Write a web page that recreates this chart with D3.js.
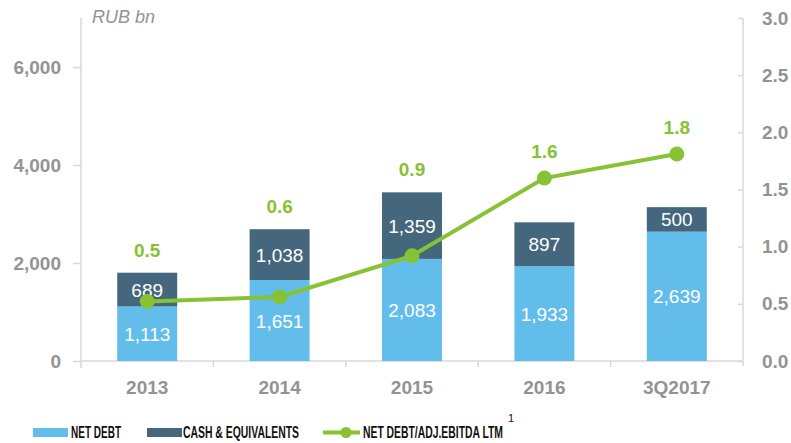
<!DOCTYPE html>
<html>
<head>
<meta charset="utf-8">
<script src="https://cdn.jsdelivr.net/npm/d3@7"></script>
<style>
  body { margin: 0; background: #fff; }
  svg { display: block; }
</style>
</head>
<body>
<svg id="chart" width="791" height="443"></svg>
<script>
// data
var categories = ["2013", "2014", "2015", "2016", "3Q2017"];
var netDebt = [1113, 1651, 2083, 1933, 2639];
var cash = [689, 1038, 1359, 897, 500];
var ratio = [0.52, 0.56, 0.92, 1.6, 1.81];
var ratioLabels = ["0.5", "0.6", "0.9", "1.6", "1.8"];
var leftTicks = [0, 2000, 4000, 6000];
var rightTicks = [0, 0.5, 1, 1.5, 2, 2.5, 3];

var lightBlue = "#63bdea", darkBlue = "#44677d", green = "#86c232", grey = "#939393", axisGrey = "#d9d9d9";

var svg = d3.select("#chart");
var plotLeft = 81, plotRight = 743, plotTop = 18, plotBottom = 361;

var x = d3.scaleBand().domain(categories).range([plotLeft, plotRight]).paddingInner(0).paddingOuter(0);
var yL = d3.scaleLinear().domain([0, 7000]).range([plotBottom, plotTop]);
var yR = d3.scaleLinear().domain([0, 3]).range([plotBottom, plotTop]);
var barW = x.bandwidth() * 0.453;
var fmt = d3.format(",");

// axes
var gl = svg.append("g").attr("transform", "translate(" + plotLeft + ",0)")
  .call(d3.axisLeft(yL).tickValues(leftTicks).tickSize(8).tickPadding(12).tickFormat(fmt));
var gr = svg.append("g").attr("transform", "translate(" + plotRight + ",0)")
  .call(d3.axisLeft(yR).tickValues(rightTicks).tickSize(5).tickPadding(0).tickFormat(d3.format(".1f")));
gr.selectAll(".tick text").attr("text-anchor", "start").attr("x", 19);
var gb = svg.append("g").attr("transform", "translate(0," + plotBottom + ")")
  .call(d3.axisBottom(x).tickSize(0).tickPadding(20));

// band boundary ticks on the category axis
svg.selectAll(".btick").data(categories.slice(1)).enter().append("line")
  .attr("x1", function(d) { return x(d); }).attr("x2", function(d) { return x(d); })
  .attr("y1", plotBottom).attr("y2", plotBottom + 6)
  .attr("stroke", axisGrey).attr("stroke-width", 1.5);

[gl, gr, gb].forEach(function(g) {
  g.selectAll(".domain").attr("stroke", axisGrey).attr("stroke-width", 1.5);
  g.selectAll(".tick line").attr("stroke", axisGrey).attr("stroke-width", 1.5);
  g.selectAll(".tick text").attr("fill", grey).attr("font-family", "Liberation Sans, Arial, sans-serif")
    .attr("font-size", 19).attr("font-weight", "bold");
});
gl.select(".domain").attr("d", "M0," + plotTop + "V" + (plotBottom + 7));
gr.select(".domain").attr("d", "M0," + plotTop + "V" + (plotBottom + 5));
gb.select(".domain").attr("d", "M" + plotLeft + ",0H" + plotRight);

svg.append("text").attr("x", 92).attr("y", 23).text("RUB bn")
  .attr("fill", grey).attr("font-family", "Liberation Sans, Arial, sans-serif")
  .attr("font-size", 18).attr("font-style", "italic");

// stacked bars
var bars = svg.append("g");
categories.forEach(function(c, i) {
  var bx = x(c) + (x.bandwidth() - barW) / 2;
  var cx = x(c) + x.bandwidth() / 2;
  var nd = netDebt[i], cs = cash[i];
  bars.append("rect").attr("x", bx).attr("width", barW)
    .attr("y", yL(nd)).attr("height", yL(0) - yL(nd)).attr("fill", lightBlue);
  bars.append("rect").attr("x", bx).attr("width", barW)
    .attr("y", yL(nd + cs)).attr("height", yL(nd) - yL(nd + cs)).attr("fill", darkBlue);
  bars.append("text").attr("x", cx).attr("y", (yL(0) + yL(nd)) / 2 + 7)
    .attr("text-anchor", "middle").attr("fill", "#fff").attr("font-size", 19)
    .attr("font-family", "Liberation Sans, Arial, sans-serif").text(fmt(nd));
  bars.append("text").attr("x", cx).attr("y", (yL(nd) + yL(nd + cs)) / 2 + 7)
    .attr("text-anchor", "middle").attr("fill", "#fff").attr("font-size", 19)
    .attr("font-family", "Liberation Sans, Arial, sans-serif").text(fmt(cs));
});

// ratio line
var cxOf = function(i) { return x(categories[i]) + x.bandwidth() / 2; };
var line = d3.line().x(function(d, i) { return cxOf(i); }).y(function(d) { return yR(d); });
svg.append("path").datum(ratio).attr("d", line).attr("fill", "none")
  .attr("stroke", green).attr("stroke-width", 4);
svg.selectAll(".dot").data(ratio).enter().append("circle")
  .attr("cx", function(d, i) { return cxOf(i); }).attr("cy", function(d) { return yR(d); })
  .attr("r", 7.5).attr("fill", green);
svg.selectAll(".rlab").data(ratio).enter().append("text")
  .attr("x", function(d, i) { return cxOf(i); })
  .attr("y", function(d, i) {
    var topBar = yL(netDebt[i] + cash[i]);
    var py = yR(d);
    // label sits above the bar, or above the point when the point is higher
    return py < topBar ? py - 20 : topBar - 16;
  })
  .attr("text-anchor", "middle").attr("fill", green).attr("font-size", 19)
  .attr("font-weight", "bold").attr("font-family", "Liberation Sans, Arial, sans-serif")
  .text(function(d, i) { return ratioLabels[i]; });

// legend (condensed look via textLength)
var lg = svg.append("g").attr("font-family", "Liberation Sans, Arial, sans-serif")
  .attr("font-weight", "bold").attr("font-size", 17).attr("fill", "#111");
lg.append("rect").attr("x", 33).attr("y", 428).attr("width", 35).attr("height", 9).attr("fill", lightBlue);
lg.append("text").attr("x", 71).attr("y", 438).attr("textLength", 50).attr("lengthAdjust", "spacingAndGlyphs").text("NET DEBT");
lg.append("rect").attr("x", 147).attr("y", 428).attr("width", 35).attr("height", 9).attr("fill", darkBlue);
lg.append("text").attr("x", 183).attr("y", 438).attr("textLength", 116).attr("lengthAdjust", "spacingAndGlyphs").text("CASH & EQUIVALENTS");
lg.append("line").attr("x1", 323).attr("x2", 360).attr("y1", 432.5).attr("y2", 432.5)
  .attr("stroke", green).attr("stroke-width", 4);
lg.append("circle").attr("cx", 346).attr("cy", 432.5).attr("r", 5.5).attr("fill", green);
lg.append("text").attr("x", 363).attr("y", 438).attr("textLength", 140).attr("lengthAdjust", "spacingAndGlyphs").text("NET DEBT/ADJ.EBITDA LTM");
lg.append("text").attr("x", 508).attr("y", 422).attr("font-size", 11).attr("font-weight", "normal").text("1");
</script>
</body>
</html>
